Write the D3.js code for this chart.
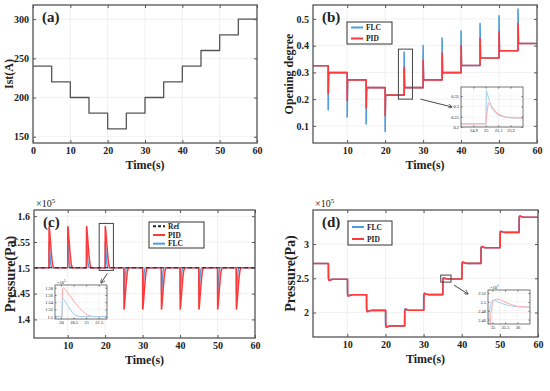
<!DOCTYPE html>
<html>
<head>
<meta charset="utf-8">
<script src="https://cdn.jsdelivr.net/npm/d3@7"></script>
<style>
  body { margin: 0; background: #fff; }
  text { font-family: "Liberation Serif", "Times New Roman", serif; }
</style>
</head>
<body>
<svg id="fig" width="550" height="391"></svg>
<script>

// ---- data ----
var stepTimes = [0, 5, 10, 15, 20, 25, 30, 35, 40, 45, 50, 55, 60];

// (a) stack current
var currentLevels = [240, 220, 200, 180, 160, 180, 200, 220, 240, 260, 280, 300];

// (b) valve opening degree, settled level per interval and spike extreme at each step (t = 5..55)
var openLevels   = [0.325, 0.299, 0.272, 0.243, 0.215, 0.243, 0.272, 0.299, 0.326, 0.354, 0.381, 0.408];
var openFLCPeaks = [0.160, 0.133, 0.107, 0.079, 0.376, 0.400, 0.428, 0.455, 0.483, 0.512, 0.537];
var openPIDPeaks = [0.220, 0.195, 0.167, 0.138, 0.319, 0.345, 0.372, 0.400, 0.427, 0.452, 0.483];

// (b) inset, zoom on the step at 25 s
var bInsetTimeFLC = [24.8, 25.0, 25.005, 25.02, 25.05, 25.08, 25.1, 25.15, 25.2, 25.3];
var bInsetFLC     = [0.215, 0.215, 0.378, 0.345, 0.290, 0.267, 0.258, 0.248, 0.245, 0.243];
var bInsetTimePID = [24.8, 25.0, 25.02, 25.04, 25.07, 25.1, 25.15, 25.2, 25.3];
var bInsetPID     = [0.215, 0.215, 0.318, 0.305, 0.280, 0.263, 0.250, 0.245, 0.243];

// (c) inlet pressure (x1e5 Pa): reference and spike extremes at each step
var pressRef       = 1.5;
var pressPIDPeaks  = [1.58, 1.58, 1.58, 1.58, 1.42, 1.42, 1.42, 1.42, 1.42, 1.42, 1.42];
var pressFLCPeaks  = [1.55, 1.55, 1.55, 1.55, 1.45, 1.45, 1.45, 1.45, 1.45, 1.45, 1.45];

// (c) inset, zoom on the step at 20 s
var cInsetTimePID = [19.76, 20.04, 20.06, 20.1, 20.25, 20.48, 20.75, 21.0, 21.27, 21.83];
var cInsetPID     = [1.5, 1.5, 1.578, 1.58, 1.568, 1.546, 1.522, 1.506, 1.5, 1.5];
var cInsetTimeFLC = [19.76, 20.04, 20.06, 20.1, 20.25, 20.48, 20.6, 20.75, 21.83];
var cInsetFLC     = [1.5, 1.5, 1.548, 1.55, 1.532, 1.508, 1.503, 1.5, 1.5];

// (d) outlet pressure (x1e5 Pa), settled level per interval
var outLevels = [2.715, 2.487, 2.259, 2.031, 1.805, 2.033, 2.262, 2.489, 2.718, 2.946, 3.170, 3.392];

// (d) inset, zoom on the step at 35 s
var dInsetTimeFLC = [34.82, 34.84, 34.86, 34.92, 35.0, 35.1, 35.3, 35.5, 35.75, 36.0, 36.25, 36.5];
var dInsetFLC     = [2.262, 2.262, 2.470, 2.495, 2.504, 2.503, 2.498, 2.494, 2.491, 2.489, 2.4885, 2.4885];
var dInsetTimePID = [34.82, 34.91, 34.93, 35.0, 35.1, 35.2, 35.35, 35.5, 35.75, 36.0, 36.25, 36.5];
var dInsetPID     = [2.262, 2.262, 2.470, 2.500, 2.506, 2.506, 2.504, 2.500, 2.494, 2.490, 2.4885, 2.4885];

// ---- styles ----
var BLUE = "#4d9de0", RED = "#ff3838";
var PALE_BLUE = "#a6d0f2", PALE_RED = "#ffaaaa";
var FRAME = "#555";

var svg = d3.select("#fig");
svg.append("rect").attr("width", 550).attr("height", 391).attr("fill", "#fff");

var clipCount = 0;

// grid + clip for a panel (drawn before data)
function makePanel(p) {
  var pan = {};
  pan.p = p;
  pan.x = d3.scaleLinear().domain(p.xDomain).range([p.left, p.right]);
  pan.y = d3.scaleLinear().domain(p.yDomain).range([p.bottom, p.top]);

  var grid = svg.append("g").attr("stroke", p.gridColor || "#e8e8e8").attr("stroke-width", 0.6);
  grid.selectAll(".gx").data(p.xTicks).join("line")
    .attr("x1", function(d) { return pan.x(d); }).attr("x2", function(d) { return pan.x(d); })
    .attr("y1", p.top).attr("y2", p.bottom);
  grid.selectAll(".gy").data(p.yTicks).join("line")
    .attr("y1", function(d) { return pan.y(d); }).attr("y2", function(d) { return pan.y(d); })
    .attr("x1", p.left).attr("x2", p.right);

  clipCount++;
  pan.clipId = "clip" + clipCount;
  svg.append("clipPath").attr("id", pan.clipId).append("rect")
    .attr("x", p.left).attr("y", p.top)
    .attr("width", p.right - p.left).attr("height", p.bottom - p.top);

  pan.g = svg.append("g").attr("clip-path", "url(#" + pan.clipId + ")");
  pan.line = d3.line().x(function(d) { return pan.x(d[0]); }).y(function(d) { return pan.y(d[1]); });
  return pan;
}

// frame, inward ticks and labels (drawn after data)
function finishPanel(pan) {
  var p = pan.p;
  var ts = p.tickSize || 3;
  var fs = p.tickFont || 10;

  var xb = d3.axisBottom(pan.x).tickValues(p.xTicks).tickSize(-ts).tickPadding(p.xPad || 4)
    .tickFormat(p.xFormat || d3.format("d"));
  var yl = d3.axisLeft(pan.y).tickValues(p.yTicks).tickSize(-ts).tickPadding(p.yPad || 4)
    .tickFormat(p.yFormat || d3.format("d"));
  var xt = d3.axisTop(pan.x).tickValues(p.xTicks).tickSize(-ts).tickFormat("");
  var yr = d3.axisRight(pan.y).tickValues(p.yTicks).tickSize(-ts).tickFormat("");

  [[xb, "translate(0," + p.bottom + ")"], [yl, "translate(" + p.left + ",0)"],
   [xt, "translate(0," + p.top + ")"], [yr, "translate(" + p.right + ",0)"]].forEach(function(a) {
    var ax = svg.append("g").attr("transform", a[1]).call(a[0]);
    ax.select(".domain").remove();
    ax.selectAll("line").attr("stroke", FRAME).attr("stroke-width", p.frameWidth || 1);
    ax.selectAll("text").attr("fill", "#222").style("font-size", fs + "px")
      .style("font-weight", p.bold === false ? "normal" : "bold")
      .style("font-family", '"Liberation Serif", "Times New Roman", serif');
  });

  svg.append("rect")
    .attr("x", p.left).attr("y", p.top)
    .attr("width", p.right - p.left).attr("height", p.bottom - p.top)
    .attr("fill", "none").attr("stroke", FRAME).attr("stroke-width", p.frameWidth || 1.3);

  if (p.xLabel) {
    svg.append("text").attr("x", (p.left + p.right) / 2).attr("y", p.bottom + 26)
      .attr("text-anchor", "middle").style("font-size", "12px").style("font-weight", "bold")
      .attr("fill", "#222").text(p.xLabel);
  }
  if (p.yLabel) {
    svg.append("text")
      .attr("transform", "translate(" + (p.left - p.yLabelOffset) + "," + ((p.top + p.bottom) / 2) + ")rotate(-90)")
      .attr("text-anchor", "middle").attr("dy", "0.35em")
      .style("font-size", p.yLabelSize + "px").style("font-weight", "bold")
      .attr("fill", "#222").text(p.yLabel);
  }
  if (p.tag) {
    svg.append("text").attr("x", p.left + 9).attr("y", p.top + 17)
      .style("font-size", "15px").style("font-weight", "bold").attr("fill", "#222").text(p.tag);
  }
  if (p.exponent) {
    var e = svg.append("text").attr("x", p.left + (p.expDx || 2)).attr("y", p.top - (p.expDy || 4))
      .style("font-size", (p.expSize || 10) + "px").attr("fill", "#222");
    e.append("tspan").text("\u00d710");
    e.append("tspan").attr("dy", -(p.expSize || 10) * 0.4).style("font-size", ((p.expSize || 10) * 0.7) + "px").text(p.exponent);
  }
}

function legend(x0, y0, w, h, items) {
  svg.append("rect").attr("x", x0).attr("y", y0).attr("width", w).attr("height", h)
    .attr("fill", "#fff").attr("stroke", "#333").attr("stroke-width", 1);
  var step = h / items.length;
  items.forEach(function(it, i) {
    var yy = y0 + step * (i + 0.5);
    svg.append("line").attr("x1", x0 + 4).attr("x2", x0 + 16).attr("y1", yy).attr("y2", yy)
      .attr("stroke", it.color).attr("stroke-width", 2)
      .attr("stroke-dasharray", it.dash || null);
    svg.append("text").attr("x", x0 + 19).attr("y", yy).attr("dy", "0.35em")
      .style("font-size", "7.5px").style("font-weight", "bold").attr("fill", "#222").text(it.label);
  });
}

function zoomBox(pan, x0, x1, y0, y1) {
  svg.append("rect")
    .attr("x", pan.x(x0)).attr("y", pan.y(y1))
    .attr("width", pan.x(x1) - pan.x(x0)).attr("height", pan.y(y0) - pan.y(y1))
    .attr("fill", "none").attr("stroke", "#444").attr("stroke-width", 1);
}

svg.append("defs").append("marker").attr("id", "arrow")
  .attr("viewBox", "0 0 10 10").attr("refX", 9).attr("refY", 5)
  .attr("markerWidth", 5).attr("markerHeight", 5).attr("orient", "auto")
  .append("path").attr("d", "M0,0 L10,5 L0,10").attr("fill", "none").attr("stroke", "#333").attr("stroke-width", 1.5);

function arrow(x1, y1, x2, y2) {
  svg.append("line").attr("x1", x1).attr("y1", y1).attr("x2", x2).attr("y2", y2)
    .attr("stroke", "#333").attr("stroke-width", 0.9).attr("marker-end", "url(#arrow)");
}

// step series: level held across each interval
function stepSeries(levels) {
  var pts = [];
  levels.forEach(function(v, i) { pts.push([stepTimes[i], v], [stepTimes[i + 1], v]); });
  return pts;
}

// step series with a sharp spike at each switching time
function spikeSteps(levels, peaks, t0) {
  var pts = [[t0, levels[0]]];
  for (var i = 1; i < levels.length; i++) {
    var t = stepTimes[i];
    pts.push([t, levels[i - 1]], [t, peaks[i - 1]], [t + 0.12, levels[i]]);
  }
  pts.push([60, levels[levels.length - 1]]);
  return pts;
}

// pressure series: inset transient reused at every step, scaled to that step's peak
function pressureSeries(times, vals, peaks, start, end) {
  var insetPeak = d3.max(vals);
  var pts = [[1, pressRef]];
  peaks.forEach(function(pk, k) {
    var T = stepTimes[k + 1], s = (pk - pressRef) / (insetPeak - pressRef);
    times.forEach(function(t, j) {
      if (t >= start && t <= end) pts.push([T + t - start, pressRef + (vals[j] - pressRef) * s]);
    });
  });
  pts.push([60, pressRef]);
  return pts;
}

// outlet pressure: inset step response reused at every level change
function outletSeries(times, vals, tRef, from, to) {
  var pts = [[1, outLevels[0]]];
  for (var i = 1; i < outLevels.length; i++) {
    var T = stepTimes[i], a = outLevels[i - 1], b = outLevels[i];
    times.forEach(function(t, j) {
      if (t >= tRef) pts.push([T + t - tRef, a + (vals[j] - from) / (to - from) * (b - a)]);
    });
  }
  pts.push([60, outLevels[outLevels.length - 1]]);
  return pts;
}

function zip(t, v) { return t.map(function(d, i) { return [d, v[i]]; }); }

function drawLine(pan, pts, color, width, dash) {
  pan.g.append("path").attr("d", pan.line(pts)).attr("fill", "none")
    .attr("stroke", color).attr("stroke-width", width)
    .attr("stroke-dasharray", dash || null).attr("stroke-linejoin", "round");
}

var tens = [10, 20, 30, 40, 50, 60];

// ---- (a) ----
var pa = makePanel({left: 33, right: 257, top: 5, bottom: 143, xDomain: [0, 60], yDomain: [142, 318],
  xTicks: [0, 10, 20, 30, 40, 50, 60], yTicks: [150, 200, 250, 300],
  xLabel: "Time(s)", yLabel: "Ist(A)", yLabelOffset: 24, yLabelSize: 12, tag: "(a)"});
drawLine(pa, stepSeries(currentLevels), "#555", 1.3);
finishPanel(pa);

// ---- (b) ----
var pb = makePanel({left: 313, right: 537, top: 5, bottom: 143, xDomain: [1, 60], yDomain: [0.036, 0.552],
  xTicks: tens, yTicks: [0.1, 0.2, 0.3, 0.4, 0.5], yFormat: d3.format(".1f"),
  xLabel: "Time(s)", yLabel: "Opening degree", yLabelOffset: 24, yLabelSize: 12, tag: "(b)"});
drawLine(pb, spikeSteps(openLevels, openFLCPeaks, 1), BLUE, 1.6);
drawLine(pb, spikeSteps(openLevels, openPIDPeaks, 1), RED, 1.6);
finishPanel(pb);
legend(347, 22, 45, 22, [{label: "FLC", color: BLUE}, {label: "PID", color: RED}]);
zoomBox(pb, 23.5, 27.2, 0.2, 0.387);

var bi = makePanel({left: 461, right: 523, top: 87, bottom: 127, xDomain: [24.8, 25.3], yDomain: [0.2, 0.394],
  xTicks: [24.9, 25, 25.1, 25.2], yTicks: [0.2, 0.25, 0.3, 0.35], gridColor: "#f0f0f0",
  xFormat: d3.format(""), yFormat: d3.format(""), tickFont: 4.5, tickSize: 1.5, xPad: 2, yPad: 2,
  bold: false, frameWidth: 0.8});
drawLine(bi, zip(bInsetTimeFLC, bInsetFLC), PALE_BLUE, 1);
drawLine(bi, zip(bInsetTimePID, bInsetPID), PALE_RED, 1);
finishPanel(bi);
arrow(pb.x(27.2) + 8, pb.y(0.2), bi.p.left - 9, bi.p.top + 20);

// ---- (c) ----
var pc = makePanel({left: 34, right: 255, top: 210, bottom: 338, xDomain: [1, 60], yDomain: [1.364, 1.612],
  xTicks: tens, yTicks: [1.4, 1.45, 1.5, 1.55, 1.6], yFormat: d3.format(""),
  xLabel: "Time(s)", yLabel: "Pressure(Pa)", yLabelOffset: 24, yLabelSize: 14, tag: "(c)",
  exponent: "5", expDx: 2, expDy: 3, expSize: 10});
drawLine(pc, pressureSeries(cInsetTimeFLC, cInsetFLC, pressFLCPeaks, 20.04, 20.75), BLUE, 1.3);
drawLine(pc, pressureSeries(cInsetTimePID, cInsetPID, pressPIDPeaks, 20.04, 21.27), RED, 1.5);
drawLine(pc, [[1, pressRef], [60, pressRef]], "#222", 1.1, "4,3");
finishPanel(pc);
legend(149, 222, 55, 26, [{label: "Ref", color: "#222", dash: "3,2"}, {label: "PID", color: RED}, {label: "FLC", color: BLUE}]);
zoomBox(pc, 18.4, 22.2, 1.495, 1.586);

var ci = makePanel({left: 55, right: 107, top: 285, bottom: 319, xDomain: [19.76, 21.83], yDomain: [1.4933, 1.5875],
  xTicks: [20, 20.5, 21, 21.5], yTicks: [1.5, 1.52, 1.54, 1.56, 1.58], gridColor: "#f0f0f0",
  xFormat: d3.format(""), yFormat: d3.format(""), tickFont: 4.5, tickSize: 1.5, xPad: 2, yPad: 2,
  bold: false, frameWidth: 0.8, exponent: "5", expDx: 0, expDy: 1, expSize: 4.5});
drawLine(ci, zip(cInsetTimePID, cInsetPID), PALE_RED, 1);
drawLine(ci, zip(cInsetTimeFLC, cInsetFLC), PALE_BLUE, 1);
finishPanel(ci);
arrow(pc.x(22.2) - 6, pc.y(1.495) + 3, ci.p.right - 6, ci.p.top - 2);

// ---- (d) ----
var pd = makePanel({left: 313, right: 538, top: 210, bottom: 337, xDomain: [1, 60], yDomain: [1.643, 3.497],
  xTicks: tens, yTicks: [2, 2.5, 3], yFormat: d3.format(""),
  xLabel: "Time(s)", yLabel: "Pressure(Pa)", yLabelOffset: 23, yLabelSize: 14, tag: "(d)",
  exponent: "5", expDx: 2, expDy: 3, expSize: 10});
drawLine(pd, outletSeries(dInsetTimeFLC, dInsetFLC, 34.84, 2.262, 2.4885), BLUE, 1.6);
drawLine(pd, outletSeries(dInsetTimePID, dInsetPID, 34.84, 2.262, 2.4885), RED, 1.6);
finishPanel(pd);
legend(348, 221, 44, 24, [{label: "FLC", color: BLUE}, {label: "PID", color: RED}]);
zoomBox(pd, 34.5, 37.2, 2.444, 2.547);

var di = makePanel({left: 488, right: 530, top: 290, bottom: 324, xDomain: [34.82, 36.5], yDomain: [2.45, 2.527],
  xTicks: [35, 35.5, 36], yTicks: [2.46, 2.48, 2.5, 2.52], gridColor: "#f0f0f0",
  xFormat: d3.format(""), yFormat: d3.format(""), tickFont: 4.5, tickSize: 1.5, xPad: 2, yPad: 2,
  bold: false, frameWidth: 0.8, exponent: "5", expDx: 0, expDy: 1, expSize: 4.5});
drawLine(di, zip(dInsetTimeFLC, dInsetFLC), PALE_BLUE, 1);
drawLine(di, zip(dInsetTimePID, dInsetPID), PALE_RED, 1);
finishPanel(di);
arrow(pd.x(37.2) + 3, pd.y(2.444) + 3, di.p.left - 20, di.p.top + 4);

</script>
</body>
</html>
